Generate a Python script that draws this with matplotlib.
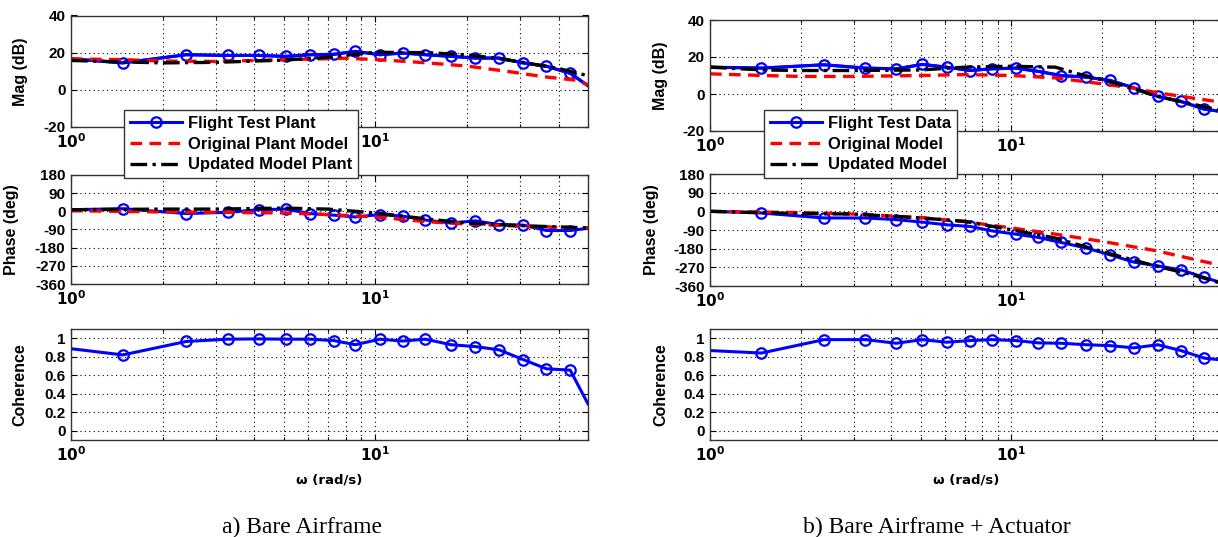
import numpy as np
import matplotlib
matplotlib.use("Agg")
import matplotlib.pyplot as plt
from matplotlib.ticker import FixedLocator, NullFormatter

plt.rcParams['font.family'] = ['Liberation Sans Narrow', 'Liberation Sans', 'DejaVu Sans']
plt.rcParams['font.weight'] = 'bold'
plt.rcParams['mathtext.default'] = 'bf'

# flight test frequencies (rad/s); first and last points carry no marker
w_ft = [1.0, 1.48, 2.39, 3.28, 4.15, 5.07, 6.1, 7.3, 8.6, 10.35, 12.3,
        14.6, 17.75, 21.3, 25.5, 30.6, 36.5, 43.7, 50.0]

# ---- a) bare airframe ----
mag_ft_a = [16.7, 14.5, 18.9, 18.5, 18.5, 18.0, 18.9, 19.1, 20.7, 18.9, 19.8,
            18.9, 18.0, 17.1, 17.1, 14.5, 12.7, 8.9, 2.2]
ph_ft_a = [8, 13, -11, -5, 8, 11, -11, -19, -28, -16, -24,
           -43, -58, -47, -66, -68, -95, -95, -84]
coh_a = [0.887, 0.82, 0.965, 0.99, 0.993, 0.99, 0.99, 0.975, 0.93, 0.99, 0.97,
         0.99, 0.93, 0.91, 0.875, 0.77, 0.67, 0.655, 0.29]

w_orig_mag_a = [1, 1.5, 2, 3, 5, 8, 10, 14, 20, 27, 36, 45, 50]
mag_orig_a = [16.7, 16.2, 15.5, 15.3, 16.2, 17.0, 16.3, 14.8, 12.8, 10.0, 7.0, 5.3, 2.8]
w_upd_mag_a = [1, 1.5, 2, 3, 5, 7, 9, 10, 15, 20, 25, 30, 40, 50]
mag_upd_a = [15.8, 15.0, 14.5, 14.8, 16.0, 17.5, 19.5, 20.2, 20.0, 18.8, 17.0, 15.0, 11.5, 7.6]

w_ph_mod_a = [1, 2, 3, 5, 7, 10, 15, 20, 30, 50]
ph_orig_a = [3, -3, -5, -8, -16, -28, -52, -63, -74, -82]
ph_upd_a = [8, 11, 11, 16, 11, -8, -39, -58, -71, -82]

# ---- b) bare airframe + actuator ----
mag_ft_b = [14.5, 14.0, 15.8, 14.0, 13.6, 16.0, 14.5, 12.7, 13.6, 14.0, 12.2,
            10.0, 9.1, 7.3, 3.3, -1.3, -4.0, -8.2, -9.5]
ph_ft_b = [0, -8, -32, -32, -40, -52, -65, -73, -94, -110, -126,
           -150, -177, -210, -245, -263, -282, -319, -345]
coh_b = [0.867, 0.84, 0.985, 0.985, 0.946, 0.985, 0.957, 0.975, 0.985, 0.975, 0.95,
         0.946, 0.93, 0.92, 0.896, 0.93, 0.867, 0.785, 0.765]

w_orig_mag_b = [1, 1.5, 2, 3, 5, 7, 10, 14, 20, 25, 30, 40, 50]
mag_orig_b = [10.9, 10.0, 9.5, 9.5, 10.0, 10.5, 10.0, 8.7, 5.5, 3.3, 0.9, -2.2, -4.5]
w_upd_mag_b = [1, 1.5, 2, 3, 5, 7, 10, 14, 17, 20, 25, 30, 40, 50]
mag_upd_b = [14.5, 13.0, 12.7, 12.7, 13.0, 14.5, 15.0, 14.5, 10.5, 7.8, 3.3, -1.0, -5.5, -9.0]

w_ph_orig_b = [1, 2, 3, 5, 7, 10, 14, 20, 30, 50]
ph_orig_b = [0, -6, -13, -30, -50, -80, -110, -145, -189, -262]
w_ph_upd_b = [1, 2, 3, 5, 7, 10, 14, 20, 30, 40, 50]
ph_upd_b = [0, -11, -13, -32, -48, -89, -129, -194, -263, -306, -348]

captions = ["a) Bare Airframe", "b) Bare Airframe + Actuator"]
legend_a = ["Flight Test Plant", "Original Plant Model", "Updated Model Plant"]
legend_b = ["Flight Test Data", "Original Model", "Updated Model"]

W, H = 1218, 537
fig = plt.figure(figsize=(W / 100, H / 100), dpi=100)


def px_axes(x0, x1, ytop, ybot):
    return fig.add_axes([x0 / W, 1 - ybot / H, (x1 - x0) / W, (ybot - ytop) / H])


mk = dict(color='#0000ff', lw=2.2, marker='o', ms=7.5, mfc='none', mew=1.6,
          markevery=range(1, len(w_ft) - 1))
red = dict(color='#ff0000', lw=2.4, ls=(0, (3.5, 2.2)))
blk = dict(color='black', lw=2.4, ls=(0, (5, 1.6, 1, 1.6)))


def style(ax, yticks, ylabels, ylim, ylabel, labx):
    ax.set_xscale('log')
    ax.set_xlim(1, 50)
    ax.set_ylim(*ylim)
    ax.xaxis.set_major_locator(FixedLocator([1, 10]))
    ax.xaxis.set_minor_locator(FixedLocator([2, 3, 4, 5, 6, 7, 8, 9, 20, 30, 40, 50]))
    ax.xaxis.set_minor_formatter(NullFormatter())
    ax.set_xticklabels([r'$\mathbf{10^{0}}$', r'$\mathbf{10^{1}}$'])
    ax.set_yticks(yticks)
    ax.set_yticklabels(ylabels)
    ax.tick_params(direction='in', top=True, right=True, labelsize=11,
                   length=4, width=0.8, pad=4)
    ax.tick_params(which='minor', direction='in', top=True, length=2.5, width=0.8)
    ax.grid(True, which='both', axis='x', color='black', lw=0.8, ls=(0, (1, 3)))
    ax.grid(True, which='major', axis='y', color='black', lw=0.8, ls=(0, (1, 3)))
    for s in ax.spines.values():
        s.set_color('#333333')
        s.set_linewidth(1.0)
    ax.set_ylabel(ylabel, fontsize=11.5, fontweight='bold')
    ax.yaxis.set_label_coords(labx, 0.5)


panels = [
    dict(x0=71, x1=588, rows=[(15.5, 127), (175, 284), (329, 440)],
         mag=(mag_ft_a, w_orig_mag_a, mag_orig_a, w_upd_mag_a, mag_upd_a),
         ph=(ph_ft_a, w_ph_mod_a, ph_orig_a, w_ph_mod_a, ph_upd_a),
         coh=coh_a, leg=legend_a, legx=124, cap=captions[0], capx=302,
         labx=[-0.084, -0.10, -0.084]),
    dict(x0=710, x1=1222, rows=[(20, 131), (174, 286), (329, 440)],
         mag=(mag_ft_b, w_orig_mag_b, mag_orig_b, w_upd_mag_b, mag_upd_b),
         ph=(ph_ft_b, w_ph_orig_b, ph_orig_b, w_ph_upd_b, ph_upd_b),
         coh=coh_b, leg=legend_b, legx=764, cap=captions[1], capx=937,
         labx=[-0.082, -0.10, -0.082]),
]

for p in panels:
    ax1 = px_axes(p['x0'], p['x1'], *p['rows'][0])
    ax2 = px_axes(p['x0'], p['x1'], *p['rows'][1])
    ax3 = px_axes(p['x0'], p['x1'], *p['rows'][2])

    ft, wo, o, wu, u = p['mag']
    h1, = ax1.plot(w_ft, ft, **mk)
    h2, = ax1.plot(wo, o, **red)
    h3, = ax1.plot(wu, u, **blk)
    ax1.plot(w_ft, ft, color='#0000ff', lw=2.2, zorder=1.9)
    style(ax1, [-20, 0, 20, 40], ['-20', '0', '20', '40'], (-20, 40), 'Mag (dB)', p['labx'][0])

    ft, wo, o, wu, u = p['ph']
    ax2.plot(w_ft, ft, **mk)
    ax2.plot(wo, o, **red)
    ax2.plot(wu, u, **blk)
    pt = [-360, -270, -180, -90, 0, 90, 180]
    style(ax2, pt, [str(v) for v in pt], (-360, 180), 'Phase (deg)', p['labx'][1])

    ax3.plot(w_ft, p['coh'], **mk)
    ct = [0, 0.2, 0.4, 0.6, 0.8, 1]
    style(ax3, ct, ['0', '0.2', '0.4', '0.6', '0.8', '1'], (-0.1, 1.1), 'Coherence', p['labx'][2])
    ax3.set_xlabel('ω (rad/s)', fontsize=9.5, fontweight='bold',
                   family=['DejaVu Sans'])
    ax3.xaxis.set_label_coords(0.5, -0.30)

    leg = fig.legend([h1, h2, h3], p['leg'], loc='upper left',
                     bbox_to_anchor=(p['legx'] / W, 1 - 110 / H),
                     bbox_transform=fig.transFigure, frameon=True, fancybox=False,
                     edgecolor='#333333', framealpha=1, borderaxespad=0,
                     handlelength=3.1, handletextpad=0.4, labelspacing=0.35,
                     borderpad=0.35, prop=dict(size=12, weight='bold'))
    leg.get_frame().set_linewidth(1.0)

    fig.text(p['capx'] / W, 1 - 533 / H, p['cap'], ha='center', va='baseline',
             fontsize=17, family=['Liberation Serif'], fontweight='normal')

fig.savefig('out.png', dpi=100)
